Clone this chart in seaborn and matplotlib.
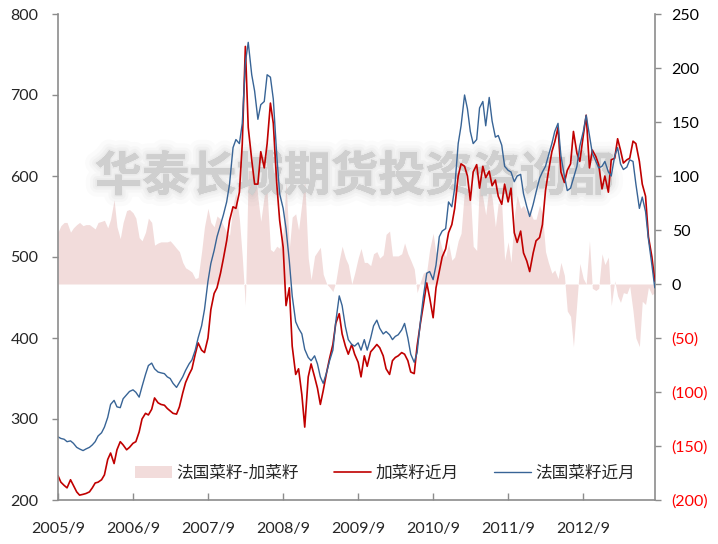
import numpy as np
import pandas as pd
import matplotlib
matplotlib.use("Agg")
import matplotlib.pyplot as plt
import seaborn as sns
from matplotlib.patches import Patch
from matplotlib.lines import Line2D
import matplotlib.patheffects as pe

# Semi-monthly observations, Sep 2005 - Aug 2013
dates = pd.date_range("2005-09-01", periods=192, freq="SMS")

# 法国菜籽近月 (French rapeseed, front month)
french = [278, 276, 275, 272, 273, 270, 265, 263, 261, 263,
          265, 268, 272, 279, 283, 290, 302, 318, 323, 315,
          314, 325, 330, 334, 336, 333, 327, 340, 355, 366,
          369, 362, 358, 357, 356, 352, 350, 344, 339, 345,
          352, 360, 368, 373, 385, 400, 415, 435, 470, 492,
          508, 525, 540, 552, 568, 590, 635, 645, 640, 665,
          740, 765, 725, 705, 670, 688, 692, 725, 722, 695,
          625, 578, 560, 535, 495, 452, 420, 412, 405, 386,
          376, 372, 378, 368, 352, 344, 358, 372, 385, 420,
          452, 440, 414, 398, 392, 390, 394, 385, 398, 385,
          400, 415, 422, 412, 405, 408, 404, 398, 402, 404,
          410, 418, 400, 380, 370, 382, 420, 450, 480, 482,
          472, 490, 525, 532, 535, 568, 562, 585, 640, 662,
          700, 683, 655, 640, 645, 684, 692, 662, 697, 668,
          648, 650, 638, 612, 607, 605, 593, 600, 602, 578,
          562, 550, 565, 580, 597, 605, 612, 625, 640, 655,
          665, 625, 600, 582, 585, 597, 612, 637, 655, 675,
          650, 628, 618, 610, 612, 618, 605, 600, 625, 635,
          615, 608, 611, 620, 618, 590, 560, 574, 556, 522,
          490, 462]

# 加菜籽近月 (Canadian canola, front month)
canola = [230, 222, 218, 215, 225, 218, 210, 206, 207, 208,
          210, 215, 221, 222, 225, 231, 250, 258, 245, 262,
          272, 268, 262, 265, 270, 272, 284, 300, 307, 305,
          312, 326, 320, 318, 317, 313, 310, 307, 306, 315,
          332, 345, 355, 362, 380, 394, 385, 382, 400, 435,
          455, 462, 480, 498, 520, 545, 562, 560, 580, 640,
          760, 660, 620, 590, 590, 630, 610, 640, 690, 665,
          590, 545, 512, 440, 462, 390, 355, 362, 330, 290,
          352, 368, 352, 338, 318, 335, 358, 375, 392, 418,
          430, 405, 390, 380, 392, 380, 370, 352, 378, 365,
          383, 387, 392, 388, 378, 362, 355, 372, 376, 378,
          382, 380, 372, 358, 356, 390, 418, 440, 468, 450,
          425, 462, 482, 500, 510, 530, 540, 560, 600, 615,
          612, 600, 570, 605, 614, 585, 612, 598, 606, 588,
          595, 575, 565, 590, 568, 585, 530, 518, 532, 505,
          495, 482, 505, 520, 524, 540, 582, 605, 630, 642,
          660, 605, 592, 607, 615, 655, 628, 618, 650, 675,
          610, 632, 624, 614, 584, 600, 580, 620, 622, 646,
          632, 616, 620, 622, 643, 640, 618, 590, 575, 525,
          500, 470]

left_ticks = [200, 300, 400, 500, 600, 700, 800]
right_ticks = [-200, -150, -100, -50, 0, 50, 100, 150, 200, 250]
year_ticks = pd.to_datetime([f"{y}-09-01" for y in range(2005, 2013)])
year_labels = [f"{y}/9" for y in range(2005, 2013)]

df = pd.DataFrame({"date": dates, "french": french, "canola": canola})
df["spread"] = df["french"] - df["canola"]

C_FILL = "#F2DCDB"
C_RED = "#C00000"
C_BLUE = "#386496"
C_AXIS = "#8C8C8C"

sns.set_style("white")
plt.rcParams["font.family"] = ["Lato", "Noto Sans CJK SC"]

fig = plt.figure(figsize=(7.18, 5.44), dpi=100)
ax = fig.add_axes([58 / 718, 44 / 544, 597 / 718, 486 / 544])
ax2 = ax.twinx()
ax.set_zorder(ax2.get_zorder() + 1)
ax.patch.set_visible(False)

# spread area on the secondary axis
ax2.fill_between(df["date"], 0, df["spread"], color=C_FILL, linewidth=0, zorder=1)

# soft watermark: a single text with layered translucent halos
halo = [pe.withStroke(linewidth=16, foreground="#909090", alpha=0.03),
        pe.withStroke(linewidth=10, foreground="#909090", alpha=0.04),
        pe.withStroke(linewidth=6, foreground="#909090", alpha=0.05),
        pe.withStroke(linewidth=2.5, foreground="#909090", alpha=0.06),
        pe.Normal()]
ax2.text(0.497, 0.665, "华泰长城期货投资咨询部", transform=ax2.transAxes,
         fontsize=34, fontweight="bold", color="#d0d0d0", alpha=0.8,
         ha="center", va="center", zorder=2, family=["Noto Sans CJK SC"],
         path_effects=halo)

sns.lineplot(data=df, x="date", y="canola", ax=ax, color=C_RED, linewidth=1.2)
sns.lineplot(data=df, x="date", y="french", ax=ax, color=C_BLUE, linewidth=1.0)

ax.set_xlim(pd.Timestamp("2005-09-01"), pd.Timestamp("2013-08-16"))
ax.set_ylim(200, 800)
ax2.set_ylim(-200, 250)
ax.set_xlabel("")
ax.set_ylabel("")
ax2.set_ylabel("")

ax.set_yticks(left_ticks)
ax.set_yticklabels([str(v) for v in left_ticks])
ax.set_xticks(year_ticks)
ax.set_xticklabels(year_labels)
ax2.set_yticks(right_ticks)
ax2.set_yticklabels([f"({-v})" if v < 0 else str(v) for v in right_ticks])
for lab, v in zip(ax2.get_yticklabels(), right_ticks):
    lab.set_color("#FF0000" if v < 0 else "black")

ax.tick_params(axis="y", left=True, direction="out", length=4, width=1, color=C_AXIS,
               labelsize=11.5, pad=10)
ax.tick_params(axis="x", bottom=True, direction="in", length=5, width=1, color=C_AXIS,
               labelsize=11.5, pad=16)
ax2.tick_params(axis="y", right=True, direction="out", length=4, width=1, color=C_AXIS,
                labelsize=11.5, pad=8)

for s in ["top", "right"]:
    ax.spines[s].set_visible(False)
for s in ["top", "left", "bottom"]:
    ax2.spines[s].set_visible(False)
for sp in [ax.spines["left"], ax.spines["bottom"], ax2.spines["right"]]:
    sp.set_color(C_AXIS)
    sp.set_linewidth(1.2)

handles = [Patch(facecolor=C_FILL, edgecolor="none"),
           Line2D([], [], color=C_RED, linewidth=1.2),
           Line2D([], [], color=C_BLUE, linewidth=1.0)]
labels = ["法国菜籽-加菜籽", "加菜籽近月", "法国菜籽近月"]
ax.legend(handles, labels, loc="center", bbox_to_anchor=(0.548, 0.056), ncol=3,
          frameon=False, fontsize=12, handlelength=2.2, handleheight=0.8,
          handletextpad=0.3, columnspacing=2.1)

fig.savefig("out.png", dpi=100)
